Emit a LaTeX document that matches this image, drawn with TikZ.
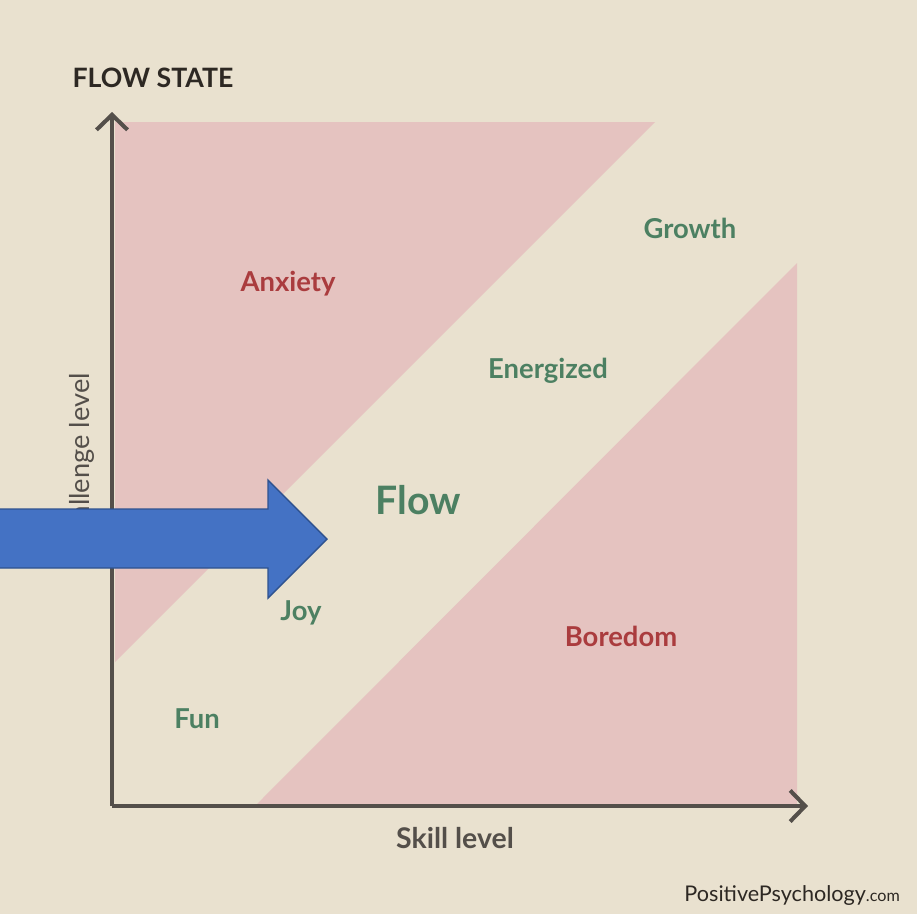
\documentclass[tikz,border=0pt]{standalone}
\usepackage{fontspec}
\setmainfont{Lato}
\usetikzlibrary{arrows.meta,positioning}
\definecolor{flowbg}{RGB}{233,225,207}
\definecolor{flowpink}{RGB}{229,195,192}
\definecolor{flowred}{RGB}{170,60,62}
\definecolor{flowgreen}{RGB}{76,128,98}
\definecolor{flowaxis}{RGB}{84,79,74}
\definecolor{flowink}{RGB}{45,40,35}
\definecolor{flowblue}{RGB}{68,114,196}
\definecolor{flowblueedge}{RGB}{47,82,143}

\begin{document}
\begin{tikzpicture}[x=0.02cm, y=-0.02cm,
    zone/.style={fill=flowpink, draw=none},
    axisline/.style={draw=flowaxis, line width=2.3pt,
                     -{Straight Barb[length=0.3cm, width=0.62cm, line width=2.3pt]}},
    bad/.style={text=flowred, font=\bfseries\fontsize{15.6}{17}\selectfont},
    good/.style={text=flowgreen, font=\bfseries\fontsize{15.6}{17}\selectfont},
    axislabel/.style={text=flowaxis, font=\fontsize{15.5}{17}\selectfont}
  ]
    % page
    \fill[flowbg] (0,0) rectangle (917,914);
    \useasboundingbox (0,0) rectangle (917,914);

    % pink zones above and below the channel
    \fill[zone] (115,122) -- (655,122) -- (115,662) -- cycle;
    \fill[zone] (797,263) -- (797,806) -- (255,806) -- cycle;

    % axes
    \coordinate (origin) at (112,806);
    \coordinate (ytop) at (112,112);
    \coordinate (xend) at (808,806);
    \draw[axisline] (origin) -- (ytop);
    \draw[axisline] (origin) -- (xend);

    \node[text=flowink, font=\bfseries\fontsize{15.2}{17}\selectfont] (title) at (153,78) {FLOW STATE};
    \node[axislabel, font=\bfseries\fontsize{16.2}{18}\selectfont] (skill) at (455,838) {Skill level};
    \node[axislabel, rotate=90] (challenge) at (82,463) {Challenge level};

    % zone labels
    \node[bad] (anxiety) at (288,284) {Anxiety};
    \node[bad] (boredom) at (621,636) {Boredom};
    \node[good] (growth) at (690,228) {Growth};
    \node[good] (energized) at (548,371) {Energized};
    \node[good, font=\bfseries\fontsize{22.3}{25}\selectfont] (flow) at (418,500) {Flow};
    \node[good] (joy) at (301,613) {Joy};
    \node[good] (fun) at (197,719) {Fun};

    \node[text=flowink, anchor=east, font=\fontsize{12.3}{14}\selectfont] (site) at (906,896)
      {PositivePsychology{\fontsize{9.2}{11}\selectfont.com}};

    % blue pointer into the channel
    \draw[fill=flowblue, draw=flowblueedge, line width=0.8pt, line join=miter]
      (-5,509) -- (268,509) -- (268,480) -- (327,539) -- (268,598)
      -- (268,568) -- (-5,568) -- cycle;
\end{tikzpicture}
\end{document}
